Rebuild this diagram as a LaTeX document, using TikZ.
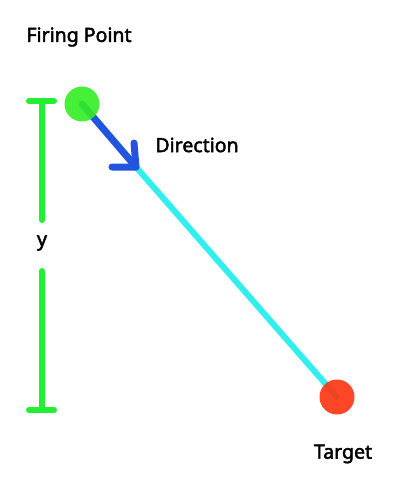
\documentclass[tikz,border=0pt]{standalone}
\usepackage{fontspec}
\setmainfont{Noto Sans}
\newcommand{\heavytext}[1]{\special{pdf:literal direct 2 Tr 0.45 w}#1\special{pdf:literal direct 0 Tr}}
\definecolor{barg}{HTML}{22EE33}
\definecolor{fpg}{HTML}{33EE22}
\definecolor{dirb}{HTML}{2255DD}
\definecolor{lcyan}{HTML}{33EEEE}
\definecolor{tred}{HTML}{FF3311}
\begin{document}
\begin{tikzpicture}[x=1pt,y=-1pt,
  lbl/.style={font=\fontsize{19.5}{22}\selectfont, inner sep=0pt, text=black},
  dot/.style={circle, minimum size=35pt, inner sep=0pt, opacity=0.9},
  bar/.style={draw=barg, line width=6pt, line cap=round},
  ray/.style={draw=lcyan, line width=6pt, line cap=round},
  dirarrow/.style={draw=dirb, line width=7pt, line cap=round, line join=round}]
\useasboundingbox (0,0) rectangle (401,500);
\coordinate (fpc) at (82,104);
\coordinate (tgc) at (337,397);
\coordinate (tip) at (136,167);
\coordinate (armv) at (134,143);
\coordinate (armh) at (112,167);
% measuring bar
\coordinate (bt) at (42,101);
\coordinate (bb) at (42,410);
\coordinate (gt) at (42,220);
\coordinate (gb) at (42,271);
\draw[bar] (bt) -- (gt);
\draw[bar] (gb) -- (bb);
\draw[bar] (29,101) -- (54,101);
\draw[bar] (29,410) -- (54,410);
\node[lbl] (ylab) at (42,243) {\heavytext{y}};
% lines
\draw[ray] (tip) -- (tgc);
\draw[dirarrow] (fpc) -- (tip);
\draw[dirarrow] (armv) -- (tip) -- (armh);
% circles
\node[dot, fill=fpg] (fp) at (fpc) {};
\node[dot, fill=tred] (tg) at (tgc) {};
% labels
\node[lbl] (fplab) at (79,37) {\heavytext{Firing Point}};
\node[lbl] (dirlab) at (197,145) {\heavytext{Direction}};
\node[lbl] (tglab) at (343,454) {\heavytext{Target}};
\end{tikzpicture}
\end{document}
